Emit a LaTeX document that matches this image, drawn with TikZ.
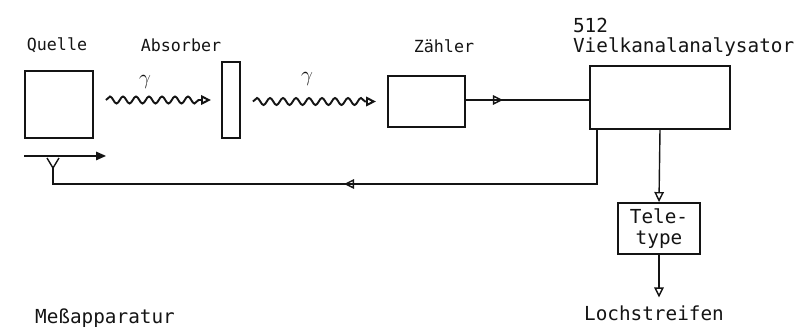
\documentclass[tikz,border=0pt]{standalone}
\usepackage{fontspec}
\setmonofont{DejaVu Sans Mono}
\usepackage{tikz}
\usetikzlibrary{arrows.meta,calc,decorations.pathmorphing,decorations.markings}
\definecolor{INK}{HTML}{141414}

\begin{document}
\begin{tikzpicture}[x=0.02cm,y=-0.02cm]
\tikzset{blk/.style={draw=INK,line width=1.1pt,inner sep=0pt},
 tip/.style={-{Triangle[open,length=2mm,width=1.9mm]}},
 ln/.style={INK,line width=0.8pt},
 wave/.style={ln,line width=1.1pt,tip,decorate,decoration={snake,segment length=0.26cm,amplitude=0.07cm,post length=2mm}},
 midarrow/.style={ln,postaction={decorate},decoration={markings,mark=at position #1 with {\arrow{Triangle[open,length=2mm,width=1.9mm]}}}},
 small/.style={font=\ttfamily\fontsize{9.5}{11}\selectfont,text=INK,inner sep=1pt},
 big/.style={font=\ttfamily\fontsize{11}{13}\selectfont,text=INK,inner sep=1pt}}
\useasboundingbox (0,0) rectangle (799,329);
% boxes
\node[blk,minimum width=1.36cm,minimum height=1.34cm] (quelle) at (59,104.5) {};
\node[blk,minimum width=0.36cm,minimum height=1.52cm] (absorber) at (231,100) {};
\node[blk,minimum width=1.54cm,minimum height=1.02cm] (zaehler) at (426.5,101.5) {};
\node[blk,minimum width=2.8cm,minimum height=1.26cm] (vka) at (660,97.5) {};
\node[blk,minimum width=1.64cm,minimum height=1.02cm,big,align=center,
 font=\ttfamily\fontsize{11}{12}\selectfont] (tty) at (659,228.5) {Tele-\\type};
% labels
\node[small] (lquelle) at (57,45) {Quelle};
\node[small] (labsorber) at (181,45) {Absorber};
\node[small] (lzaehler) at (444,46) {Zähler};
\node[big,anchor=west] (l512) at (571,25) {512};
\node[big,anchor=west] (lvka) at (571,47) {Vielkanalanalysator};
\node[big] (lloch) at (654,313) {Lochstreifen};
\node[big] (lmess) at (105,318) {Meßapparatur};
\node[font=\fontsize{13}{14}\selectfont,text=INK,inner sep=1pt] (g1) at (145,82) {$\gamma$};
\node[font=\fontsize{13}{14}\selectfont,text=INK,inner sep=1pt] (g2) at (307,79) {$\gamma$};
% gamma rays
\draw[wave] ($(quelle.east |- absorber.west)+(12,0)$) -- ($(absorber.west)+(-10,0)$);
\draw[wave] ($(absorber.east |- zaehler.west)+(12,0)$) -- ($(zaehler.west)+(-11,0)$);
% signal path
\draw[midarrow=0.3] (zaehler.east |- 0,100) -- (vka.west |- 0,100);
\draw[ln,tip] (vka.south) -- (tty.north);
\draw[ln,tip,shorten >=0.12cm] (tty.south) -- (tty.south |- lloch.north);
% drive of the source
\coordinate (fb) at (53,168);
\draw[midarrow=0.5] ([xshift=0.16cm]vka.south west) -- ++(0,54) -| (fb);
\draw[ln] (fb) -- ++(-6,-10) (fb) -- ++(6,-10);
\draw[ln,-{Triangle[length=2mm,width=1.7mm]}] ([yshift=-0.34cm]quelle.south west) -- ++(82,0);
\end{tikzpicture}
\end{document}
